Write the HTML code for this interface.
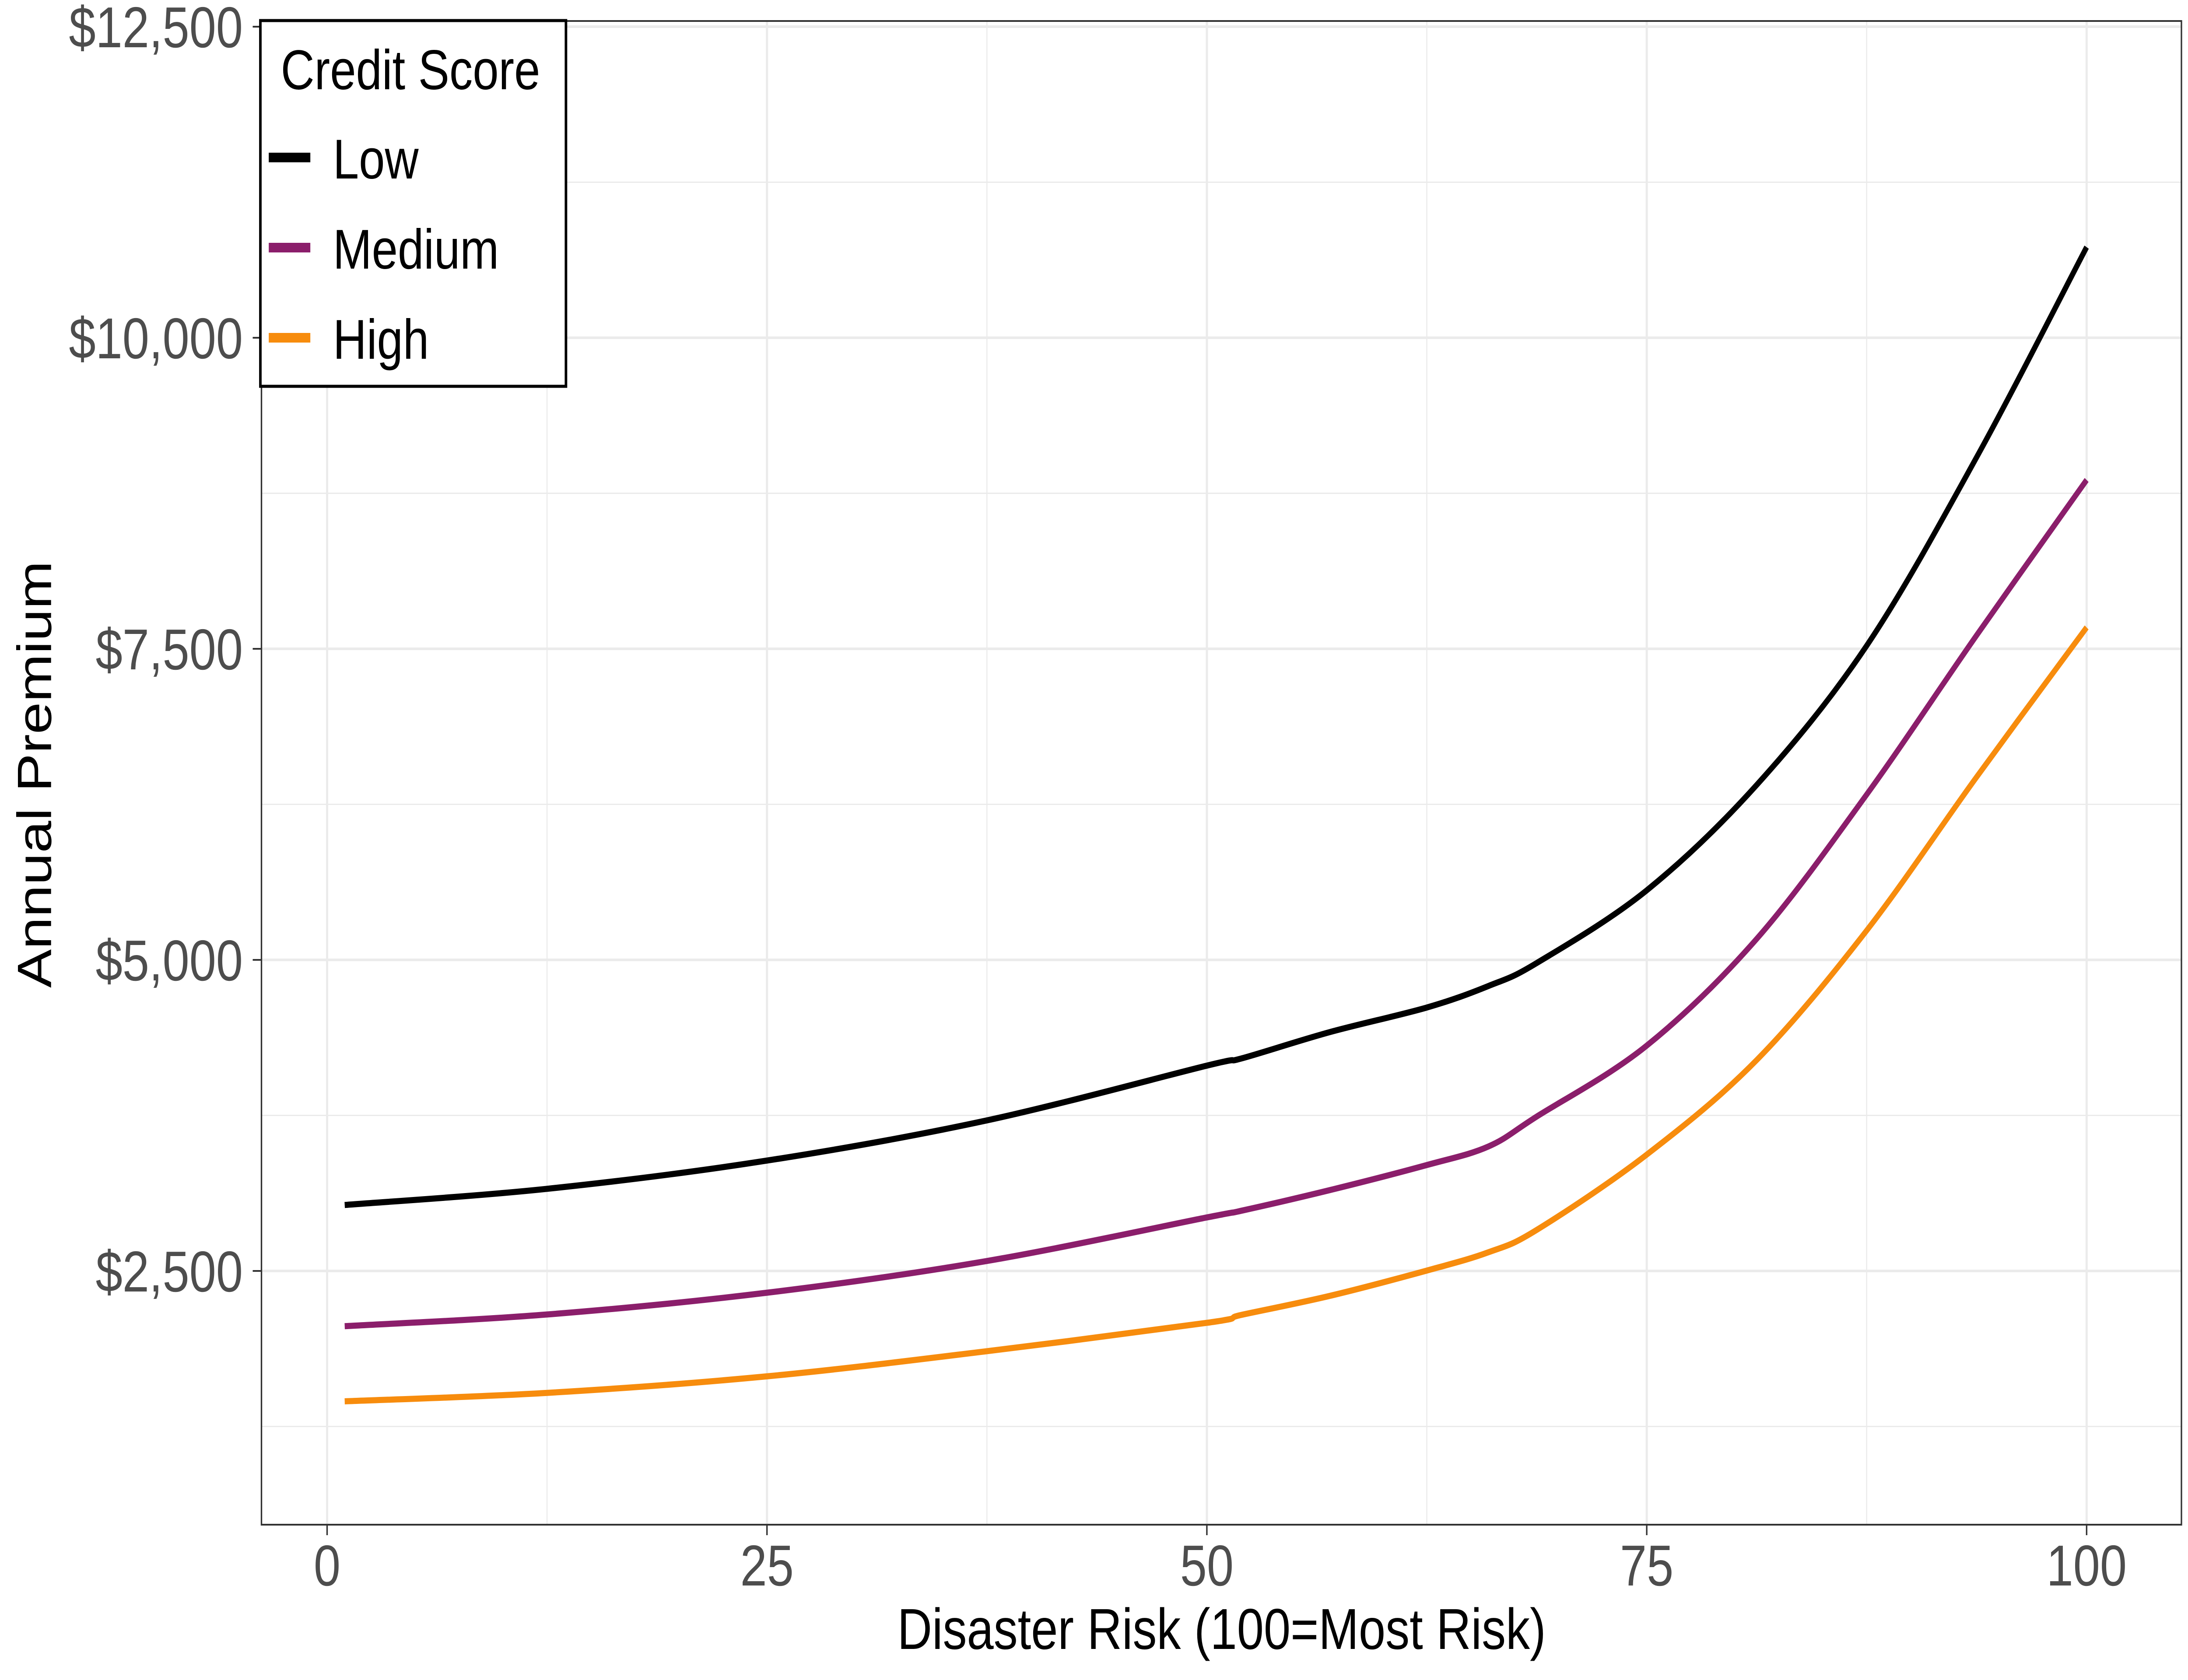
<!DOCTYPE html>
<html><head><meta charset="utf-8"><style>
html,body{margin:0;padding:0;background:#fff;width:100%;height:100%;overflow:hidden;}
svg{display:block;font-family:"Liberation Sans",Arial,sans-serif;width:100vw;height:100vh;}
</style></head><body>
<svg id="chart" viewBox="0 0 6000 3840" preserveAspectRatio="none">
<rect x="0" y="0" width="6000" height="3840" fill="#fff"/>
<g id="grid"></g>
<g id="series"></g>
<rect x="717" y="48" width="5265" height="3437" fill="none" stroke="#333" stroke-width="4"/>
<g id="axes"></g>
<text x="3350" y="3769" font-size="132" text-anchor="middle" fill="#000">Disaster Risk (100=Most Risk)</text>
<text transform="translate(140,1770) rotate(-90)" font-size="132" text-anchor="middle" fill="#000">Annual Premium</text>
<g>
<rect x="714" y="47" width="838" height="836" fill="#fff" stroke="#000" stroke-width="7"/>
<text x="770" y="204" font-size="128" fill="#000">Credit Score</text>
<line x1="737" y1="360" x2="851" y2="360" stroke="#000" stroke-width="22"/>
<text x="913" y="408" font-size="128" fill="#000">Low</text>
<line x1="737" y1="566" x2="851" y2="566" stroke="#8B1E6B" stroke-width="22"/>
<text x="913" y="614" font-size="128" fill="#000">Medium</text>
<line x1="737" y1="772" x2="851" y2="772" stroke="#F78C0D" stroke-width="22"/>
<text x="913" y="820" font-size="128" fill="#000">High</text>
</g>
</svg>
<script>
const xValues = [1,12.5,25,37.5,50,52,57,62.5,66,68.75,75,81.25,87.5,93.75,100];
const lowValues = [3030,3160,3387,3710,4150,4209,4420,4617,4790,4975,5559,6406,7525,9040,10728];
const mediumValues = [2056,2150,2325,2580,2930,2985,3150,3351,3500,3741,4311,5169,6329,7609,8857];
const highValues = [1452,1520,1653,1855,2083,2148,2300,2503,2650,2830,3435,4195,5236,6470,7672];
const xTicks = [0,25,50,75,100];
const xTickLabels = ["0","25","50","75","100"];
const yTicks = [2500,5000,7500,10000,12500];
const yTickLabels = ["$2,500","$5,000","$7,500","$10,000","$12,500"];

const NS = "http://www.w3.org/2000/svg";
function X(v){ return 897 + v * 48.25; }
function Y(v){ return 772 + (10000 - v) * 0.2844; }
function mk(tag, attrs, parent){ const e = document.createElementNS(NS, tag); for (const k in attrs) e.setAttribute(k, attrs[k]); parent.appendChild(e); return e; }

const grid = document.getElementById('grid');
const axes = document.getElementById('axes');
const PL = 717, PR = 5982, PT = 48, PB = 3485;
for (let i = 0; i < xTicks.length - 1; i++) {
  const m = (xTicks[i] + xTicks[i+1]) / 2;
  const l = mk('line', {x1:X(m), x2:X(m), y1:PT, y2:PB, stroke:'#EBEBEB', 'stroke-width':3}, grid);
  
  
}
const yMinor = [1250].concat(yTicks.slice(0, -1).map((t, i) => (t + yTicks[i+1]) / 2));
yMinor.forEach(m => {
  const l = mk('line', {x1:PL, x2:PR, y1:Y(m), y2:Y(m), stroke:'#EBEBEB', 'stroke-width':3}, grid);
  
  
});
xTicks.forEach((t, i) => {
  const l = mk('line', {x1:X(t), x2:X(t), y1:PT, y2:PB, stroke:'#EBEBEB', 'stroke-width':6}, grid);
  
  
  const tk = mk('line', {x1:X(t), x2:X(t), y1:PB, y2:PB + 24, stroke:'#333', 'stroke-width':4}, axes);
  
  
  const tx = mk('text', {x:X(t), y:3624, 'font-size':132, 'text-anchor':'middle', fill:'#4D4D4D'}, axes);
  tx.textContent = xTickLabels[i];
  
  
});
yTicks.forEach((t, i) => {
  const l = mk('line', {x1:PL, x2:PR, y1:Y(t), y2:Y(t), stroke:'#EBEBEB', 'stroke-width':6}, grid);
  
  
  const tk = mk('line', {x1:PL - 24, x2:PL, y1:Y(t), y2:Y(t), stroke:'#333', 'stroke-width':4}, axes);
  
  
  const tx = mk('text', {x:666, y:Y(t) + 47, 'font-size':132, 'text-anchor':'end', fill:'#4D4D4D'}, axes);
  tx.textContent = yTickLabels[i];
  
  
});

function smoothPath(xs, ys){
  const p = xs.map((x, i) => [X(x), Y(ys[i])]);
  let d = 'M' + p[0][0] + ',' + p[0][1];
  for (let i = 0; i < p.length - 1; i++) {
    const p0 = p[Math.max(0, i-1)], p1 = p[i], p2 = p[i+1], p3 = p[Math.min(p.length-1, i+2)];
    const c1 = [p1[0] + (p2[0]-p0[0])/6, p1[1] + (p2[1]-p0[1])/6];
    const c2 = [p2[0] - (p3[0]-p1[0])/6, p2[1] - (p3[1]-p1[1])/6];
    d += ' C' + c1.join(',') + ' ' + c2.join(',') + ' ' + p2.join(',');
  }
  return d;
}
const series = document.getElementById('series');
const s1 = mk('path', {d:smoothPath(xValues, highValues), fill:'none', stroke:'#F78C0D', 'stroke-width':14}, series);


const s2 = mk('path', {d:smoothPath(xValues, mediumValues), fill:'none', stroke:'#8B1E6B', 'stroke-width':14}, series);


const s3 = mk('path', {d:smoothPath(xValues, lowValues), fill:'none', stroke:'#000', 'stroke-width':14}, series);


</script>
</body></html>
